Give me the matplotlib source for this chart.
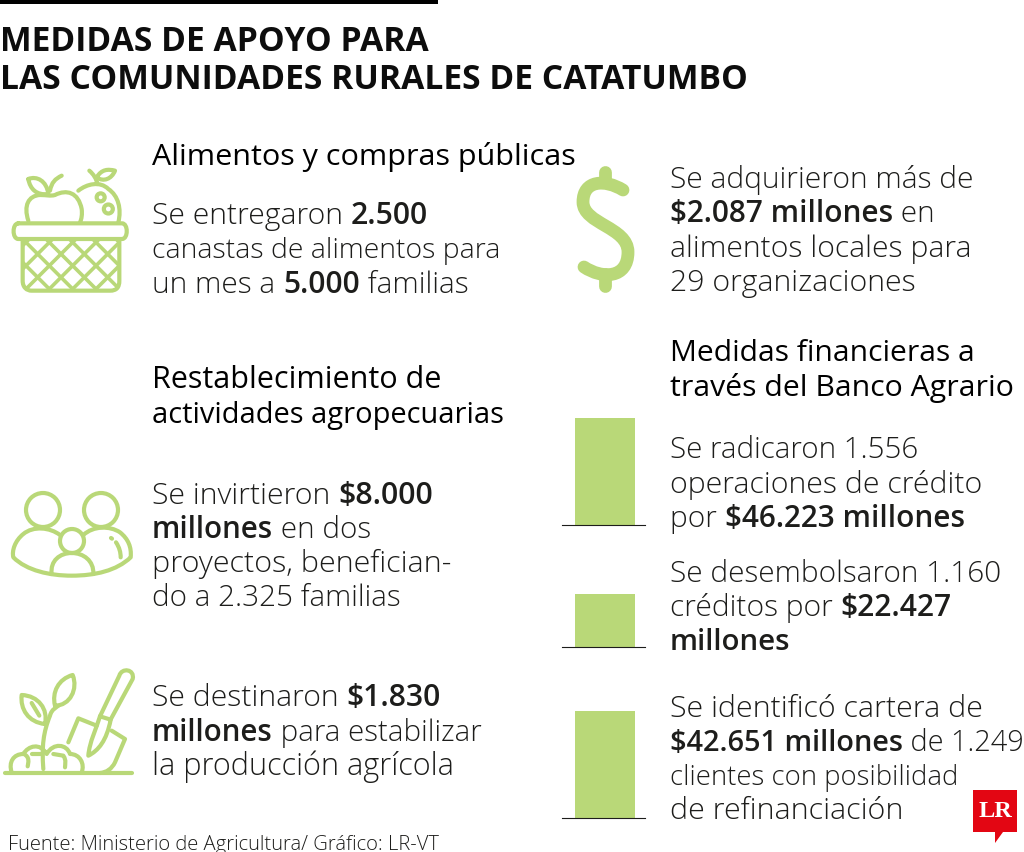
import re

import matplotlib
matplotlib.use("Agg")
import matplotlib.pyplot as plt
from matplotlib.patches import Circle, PathPatch, Polygon, Rectangle
from matplotlib.path import Path

GREEN = "#b9d878"
INK = "#1d1d1b"
FONT = "Open Sans"

# (x, baseline, right edge, text)
title_lines = [
    (0, 51, 430, "MEDIDAS DE APOYO PARA"),
    (0, 89, 750, "LAS COMUNIDADES RURALES DE CATATUMBO"),
]
heading_lines = [
    (152, 165, 575, "Alimentos y compras públicas"),
    (152, 388, 441, "Restablecimiento de"),
    (152, 423, 504, "actividades agropecuarias"),
    (670, 361, 975, "Medidas financieras a"),
    (670, 396, 1013, "través del Banco Agrario"),
]
# **...** marks the bold parts
body_lines = [
    (152, 224, 427, "Se entregaron **2.500**"),
    (152, 258, 500, "canastas de alimentos para"),
    (152, 293, 468, "un mes a **5.000** familias"),
    (152, 504, 432, "Se invirtieron **$8.000**"),
    (152, 538, 371, "**millones** en dos"),
    (152, 572, 451, "proyectos, benefician-"),
    (152, 606, 400, "do a 2.325 familias"),
    (152, 706, 440, "Se destinaron **$1.830**"),
    (152, 741, 482, "**millones** para estabilizar"),
    (152, 775, 454, "la producción agrícola"),
    (670, 188, 973, "Se adquirieron más de"),
    (670, 222, 933, "**$2.087 millones** en"),
    (670, 257, 971, "alimentos locales para"),
    (670, 291, 915, "29 organizaciones"),
    (670, 458, 918, "Se radicaron 1.556"),
    (670, 493, 982, "operaciones de crédito"),
    (670, 527, 964, "por **$46.223 millones**"),
    (670, 582, 1000, "Se desembolsaron 1.160"),
    (670, 616, 951, "créditos por **$22.427**"),
    (670, 650, 790, "**millones**"),
    (670, 717, 982, "Se identificó cartera de"),
    (670, 751, 1022, "**$42.651 millones** de 1.249"),
    (670, 785, 957, "clientes con posibilidad"),
    (670, 819, 903, "de refinanciación"),
]
source = "Fuente: Ministerio de Agricultura/ Gráfico: LR-VT"

# bar heights as drawn in the graphic, and the line each one stands on
bar_heights = [107, 53, 107]
bar_bases = [526, 648, 819]

# icon outlines, coordinates taken from 3x crops
basket = [
    "M 55 193 L 366 193 C 385 193 385 240 366 240 L 55 240 C 36 240 36 193 55 193",
    "M 68 240 L 68 365 C 68 385 80 395 95 395 L 330 395 C 350 395 358 385 358 365 L 358 240",
    "M 85 185 C 70 140 85 110 120 108 C 140 108 150 112 165 108 C 200 90 235 100 245 150 C 247 165 245 180 240 190",
    "M 85 60 C 110 50 140 65 145 105 C 110 110 90 90 85 60",
    "M 150 95 C 155 70 165 60 185 50",
    "M 235 95 C 260 75 300 65 325 90 C 355 110 365 150 355 190",
    "M 268 35 C 280 45 290 60 292 75",
    "M 290 55 C 305 30 325 30 345 35 C 335 60 310 70 290 55",
]
family = [
    "M 180 168 C 150 145 100 140 70 165 C 45 185 35 215 40 235 C 80 275 150 290 215 290 "
    "C 285 290 350 275 392 235 C 395 205 385 180 360 160 C 330 140 280 140 250 168",
    "M 155 285 C 150 245 180 222 215 222 C 250 222 282 245 280 285",
    "M 348 190 C 358 205 362 220 362 235",
    "M 333 177 L 336 179",
]
plant = [
    "M 15 882 L 395 882",
    "M 300 712 L 358 590 C 365 565 405 570 398 600 L 330 725",
    "M 300 712 C 290 745 268 790 265 830 C 295 815 320 785 332 722 L 300 712",
    "M 290 740 L 235 718 L 205 790",
    "M 335 755 L 375 780 L 345 850 C 335 870 320 880 300 882",
    "M 130 870 C 125 800 130 760 150 710 C 155 690 170 685 175 680",
    "M 165 680 C 155 640 175 600 218 588 C 235 630 210 680 165 680",
    "M 135 735 C 85 730 60 690 65 648 C 115 650 145 690 135 735",
    "M 95 672 L 118 710",
    "M 35 880 C 25 850 40 825 70 825 C 85 800 120 790 140 825 C 160 790 200 795 210 825 C 240 825 255 855 245 880",
    "M 72 825 C 90 835 85 850 83 862",
    "M 95 825 L 125 825",
    "M 160 825 L 190 830 C 200 845 195 855 195 865",
]
dollar = [
    "M 623 191 C 605 180 583 181 583 203 C 583 225 628 228 628 253 C 628 280 602 280 584 268",
    "M 605 173 L 605 182",
    "M 605 275 L 605 287",
]


def parse(d, x0=0, y0=0, k=1.0):
    verts, codes = [], []
    tok = d.split()
    i = 0
    while i < len(tok):
        c = tok[i]
        i += 1
        n = 3 if c == "C" else 1
        code = {"M": Path.MOVETO, "L": Path.LINETO, "C": Path.CURVE4}[c]
        for _ in range(n):
            verts.append((x0 + float(tok[i]) * k, y0 + float(tok[i + 1]) * k))
            codes.append(code)
            i += 2
    return Path(verts, codes)


def stroke(ax, paths, x0=0, y0=0, k=1.0, lw=3.0):
    for d in paths:
        ax.add_patch(PathPatch(parse(d, x0, y0, k), fc="none", ec=GREEN, lw=lw, capstyle="round", joinstyle="round"))


def ring(ax, x, y, r, lw=3.0):
    ax.add_patch(Circle((x, y), r, fc="none", ec=GREEN, lw=lw))


def text_width(ax, renderer, s, size, weight):
    # the | stops trailing spaces being dropped from the measure
    t = ax.text(0, 0, "|" + s + "|", fontsize=size, family=FONT, weight=weight)
    b = ax.text(0, 0, "||", fontsize=size, family=FONT, weight=weight)
    w = t.get_window_extent(renderer).width - b.get_window_extent(renderer).width
    t.remove()
    b.remove()
    return w


def fit_line(ax, renderer, x, y, right, line, size=22, plain="light", bold="semibold", color=INK):
    parts = re.split(r"\*\*", line)
    weights = [bold if i % 2 else plain for i in range(len(parts))]
    total = sum(text_width(ax, renderer, p, size, w) for p, w in zip(parts, weights) if p)
    size = size * (right - x) / total
    for p, w in zip(parts, weights):
        if not p:
            continue
        ax.text(x, y, p, fontsize=size, color=color, family=FONT, weight=w, va="baseline", ha="left")
        x += text_width(ax, renderer, p, size, w)


fig = plt.figure(figsize=(10.24, 8.53), dpi=100)
ax = fig.add_axes([0, 0, 1, 1])
ax.set_xlim(0, 1024)
ax.set_ylim(853, 0)
ax.axis("off")
renderer = fig.canvas.get_renderer()

ax.add_patch(Rectangle((0, 0), 438, 4.5, fc="black", ec="none"))

for x, y, right, line in title_lines:
    fit_line(ax, renderer, x, y, right, line, size=24, plain="bold", color="#0d0d0d")

for x, y, right, line in heading_lines:
    fit_line(ax, renderer, x, y, right, line, plain="medium", color="#000000")

for x, y, right, line in body_lines:
    fit_line(ax, renderer, x, y, right, line)

fit_line(ax, renderer, 8, 850, 441, source, size=15)

# bars, y axis runs downwards so heights are negative
ax.bar([605] * 3, [-h for h in bar_heights], width=60, bottom=bar_bases, color=GREEN)
for y in bar_bases:
    ax.plot([562, 645], [y - 0.5, y - 0.5], color=INK, lw=0.8)

# basket icon
k = 1 / 3
stroke(ax, basket, 0, 160, k)
ring(ax, 302 * k, 160 + 115 * k, 4)
ring(ax, 325 * k, 160 + 150 * k, 4.5)
clip = PathPatch(parse("M 68 240 L 68 365 C 68 385 80 395 95 395 L 330 395 C 350 395 358 385 358 365 L 358 240 L 68 240", 0, 160, k),
                 fc="none", ec="none")
ax.add_patch(clip)
for off in range(-280, 420, 70):
    for sign in (1, -1):
        x1, x2 = 68 + off, 68 + off + 160
        if sign < 0:
            x1, x2 = x2, x1
        ln, = ax.plot([x1 * k, x2 * k], [160 + 240 * k, 160 + 400 * k], color=GREEN, lw=2.6)
        ln.set_clip_path(clip)

# family icon
stroke(ax, family, 0, 480, k)
ring(ax, 43, 511, 17)
ring(ax, 101, 511, 17)
ring(ax, 72, 542, 12)

# plant and shovel
stroke(ax, plant, 0, 480, k)

# dollar sign
stroke(ax, dollar, lw=9.2)

# LR logo
ax.add_patch(Polygon([(973, 791), (1017, 791), (1017, 833), (1003, 833), (995, 844), (995, 833), (973, 833)],
                     fc="#e30613", ec="none", joinstyle="round"))
ax.text(995, 812, "LR", fontsize=17.5, family="Liberation Serif", weight="bold", color="white", ha="center", va="center")

fig.savefig("out.png", dpi=100)
